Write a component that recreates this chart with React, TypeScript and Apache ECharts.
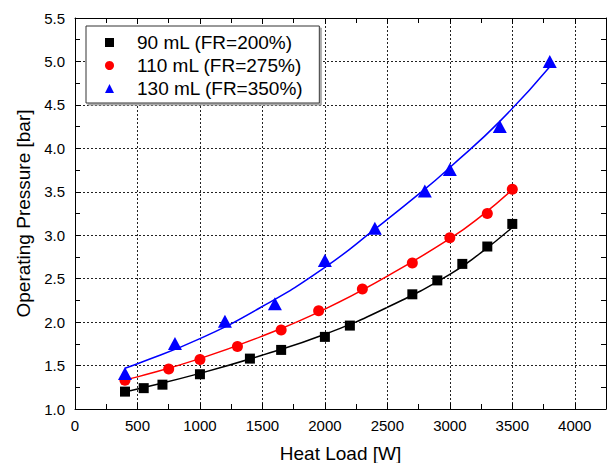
import React, { useEffect, useRef } from "react";
import * as echarts from "echarts";

// Measured data points: [Heat Load W, Operating Pressure bar]
const fr200Points: number[][] = [
  [400, 1.2], [550, 1.24], [700, 1.28], [1000, 1.4], [1400, 1.58], [1650, 1.68],
  [2000, 1.83], [2200, 1.96], [2700, 2.32], [2900, 2.48], [3100, 2.67], [3300, 2.87], [3500, 3.13],
];
const fr275Points: number[][] = [
  [400, 1.33], [750, 1.46], [1000, 1.57], [1300, 1.72], [1650, 1.91], [1950, 2.13],
  [2300, 2.38], [2700, 2.68], [3000, 2.97], [3300, 3.25], [3500, 3.53],
];
const fr350Points: number[][] = [
  [400, 1.41], [800, 1.755], [1200, 2.01], [1600, 2.21], [2000, 2.71], [2400, 3.08],
  [2800, 3.51], [3000, 3.755], [3400, 4.25], [3800, 5.0],
];

// Fitted curves
const fr200Fit: number[][] = [
  [400, 1.2], [500, 1.23], [1000, 1.41], [1500, 1.62], [2000, 1.86], [2500, 2.17],
  [3000, 2.55], [3250, 2.8], [3500, 3.09],
];
const fr275Fit: number[][] = [
  [400, 1.34], [500, 1.37], [1000, 1.58], [1500, 1.84], [2000, 2.15], [2500, 2.53],
  [3000, 2.96], [3250, 3.22], [3500, 3.525],
];
const fr350Fit: number[][] = [
  [400, 1.47], [500, 1.52], [1000, 1.81], [1500, 2.18], [2000, 2.63], [2400, 3.07],
  [2800, 3.53], [3000, 3.78], [3400, 4.31], [3800, 4.94],
];

const seriesNames = ["90 mL (FR=200%)", "110 mL (FR=275%)", "130 mL (FR=350%)"];
const xAxisTitle = "Heat Load [W]";
const yAxisTitle = "Operating Pressure [bar]";

const FONT = "'Liberation Sans', Arial, sans-serif";

export default function App() {
  const ref = useRef<HTMLDivElement>(null);

  useEffect(() => {
    if (!ref.current) return;
    const chart = echarts.init(ref.current, undefined, { renderer: "svg" });

    const frameAxisCommon = {
      axisLine: { show: true, onZero: false, lineStyle: { color: "#000", width: 1 } },
      axisTick: { show: true, inside: true, length: 6, lineStyle: { color: "#000" } },
      minorTick: { show: true, splitNumber: 2, length: 5, lineStyle: { color: "#000" } },
    };
    const gridLine = { show: true, lineStyle: { color: "#222", type: [2, 2] as any, width: 1 } };

    chart.setOption({
      animation: false,
      backgroundColor: "#fff",
      grid: {
        left: 75,
        top: 18,
        right: 1,
        bottom: 54,
        containLabel: false,
        outerBoundsMode: "none",
      },
      legend: {
        orient: "vertical",
        left: 86,
        top: 26,
        data: seriesNames,
        itemWidth: 9,
        itemHeight: 9,
        itemGap: 2,
        symbolKeepAspect: true,
        padding: [6, 16, 4, 19],
        borderColor: "#333",
        borderWidth: 1,
        backgroundColor: "#fff",
        shadowColor: "#aaa",
        shadowOffsetX: 2,
        shadowOffsetY: 2,
        shadowBlur: 0,
        textStyle: {
          fontFamily: FONT,
          fontSize: 19,
          color: "#000",
          lineHeight: 21,
          padding: [0, 0, 0, 18],
        },
      },
      xAxis: [
        {
          type: "value",
          position: "bottom",
          min: 0,
          max: 4250,
          interval: 500,
          ...frameAxisCommon,
          splitLine: gridLine,
          axisLabel: {
            show: true,
            showMaxLabel: false,
            margin: 9,
            fontFamily: FONT,
            fontSize: 15,
            color: "#000",
            formatter: (v: number) => String(v),
          },
          name: xAxisTitle,
          nameLocation: "middle",
          nameGap: 35,
          nameTextStyle: { fontFamily: FONT, fontSize: 19, color: "#000" },
        },
        {
          type: "value",
          position: "top",
          min: 0,
          max: 4250,
          interval: 500,
          ...frameAxisCommon,
          splitLine: { show: false },
          axisLabel: { show: false },
        },
      ],
      yAxis: [
        {
          type: "value",
          position: "left",
          min: 1,
          max: 5.5,
          interval: 0.5,
          ...frameAxisCommon,
          splitLine: gridLine,
          axisLabel: {
            show: true,
            margin: 10,
            fontFamily: FONT,
            fontSize: 15,
            color: "#000",
            formatter: (v: number) => v.toFixed(1),
          },
          name: yAxisTitle,
          nameLocation: "middle",
          nameGap: 36,
          nameTextStyle: { fontFamily: FONT, fontSize: 19, color: "#000" },
        },
        {
          type: "value",
          position: "right",
          min: 1,
          max: 5.5,
          interval: 0.5,
          ...frameAxisCommon,
          splitLine: { show: false },
          axisLabel: { show: false },
        },
      ],
      series: [
        {
          name: "fit200",
          type: "line",
          data: fr200Fit,
          smooth: true,
          showSymbol: false,
          silent: true,
          lineStyle: { color: "#000", width: 1.5 },
          z: 2,
        },
        {
          name: "fit275",
          type: "line",
          data: fr275Fit,
          smooth: true,
          showSymbol: false,
          silent: true,
          lineStyle: { color: "#ff0000", width: 1.5 },
          z: 2,
        },
        {
          name: "fit350",
          type: "line",
          data: fr350Fit,
          smooth: true,
          showSymbol: false,
          silent: true,
          lineStyle: { color: "#0000ff", width: 1.5 },
          z: 2,
        },
        {
          name: seriesNames[0],
          type: "scatter",
          data: fr200Points,
          symbol: "rect",
          symbolSize: 10,
          itemStyle: { color: "#000", opacity: 1 },
          z: 3,
        },
        {
          name: seriesNames[1],
          type: "scatter",
          data: fr275Points,
          symbol: "circle",
          symbolSize: 11,
          itemStyle: { color: "#ff0000", opacity: 1 },
          z: 3,
        },
        {
          name: seriesNames[2],
          type: "scatter",
          data: fr350Points,
          symbol: "triangle",
          symbolSize: [14, 13],
          itemStyle: { color: "#0000ff", opacity: 1 },
          z: 3,
        },
      ],
    });

    return () => chart.dispose();
  }, []);

  return (
    <div
      ref={ref}
      style={{ position: "absolute", left: 0, top: 0, width: 607, height: 463 }}
    />
  );
}
